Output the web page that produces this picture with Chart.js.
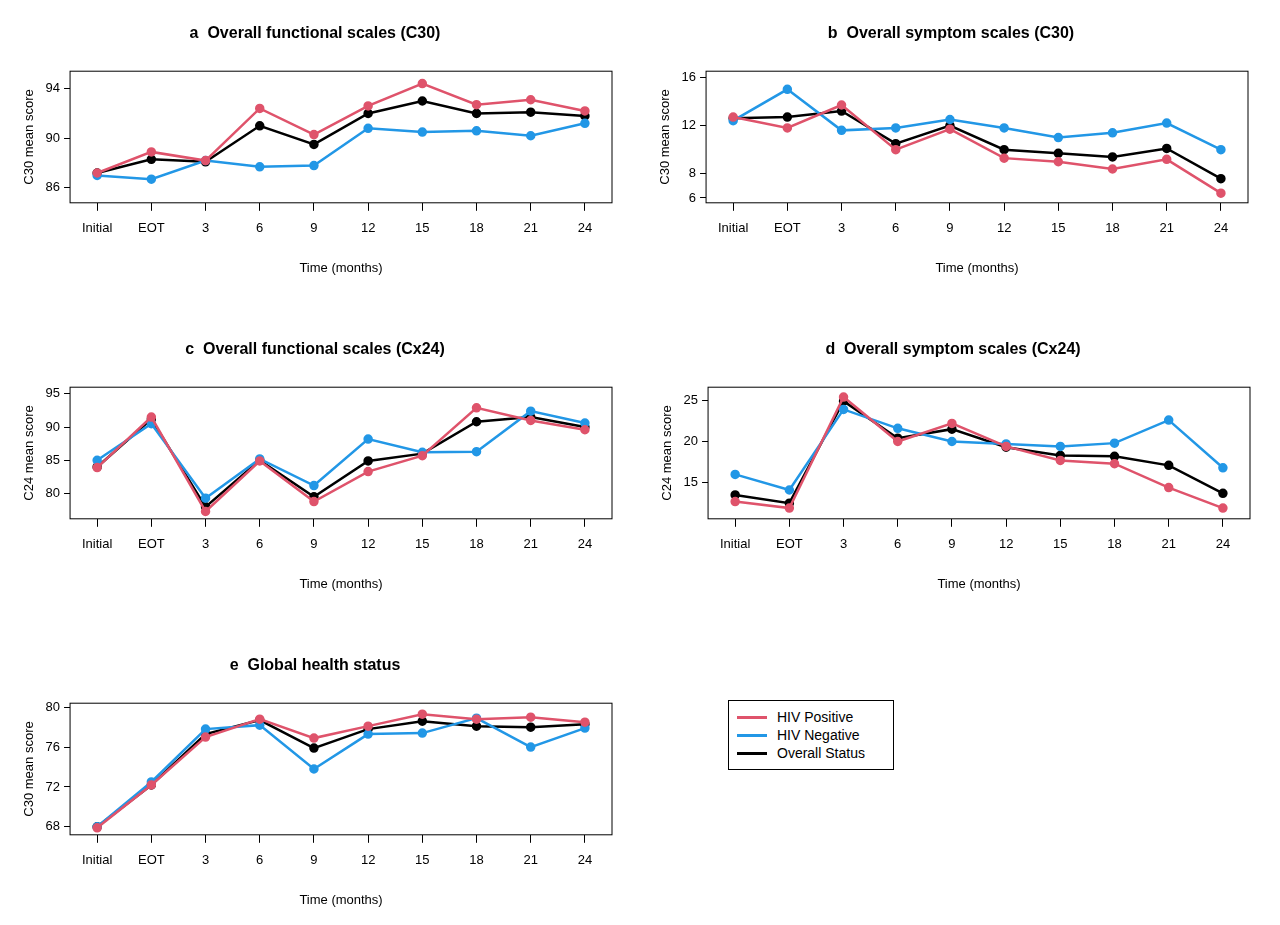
<!DOCTYPE html>
<html>
<head>
<meta charset="utf-8">
<script src="https://cdn.jsdelivr.net/npm/chart.js@4"></script>
<style>
  body { margin: 0; background: #fff; font-family: "Liberation Sans", Arial, sans-serif; }
  .panel { position: absolute; width: 640px; height: 268px; }
  #legend { position: absolute; left: 728px; top: 700px; width: 148px; border: 1px solid #000;
    padding: 7px 8px; font-size: 14px; line-height: 18px; }
  #legend div { display: flex; align-items: center; }
  #legend span { display: inline-block; width: 30px; height: 3px; margin-right: 10px; }
</style>
</head>
<body>
<div class="panel" style="left:0;top:12px"><canvas id="a"></canvas></div>
<div class="panel" style="left:636px;top:12px"><canvas id="b"></canvas></div>
<div class="panel" style="left:0;top:328px"><canvas id="c"></canvas></div>
<div class="panel" style="left:638px;top:328px"><canvas id="d"></canvas></div>
<div class="panel" style="left:0;top:644px"><canvas id="e"></canvas></div>
<div id="legend">
  <div><span style="background:#DF536B"></span>HIV Positive</div>
  <div><span style="background:#2297E6"></span>HIV Negative</div>
  <div><span style="background:#000"></span>Overall Status</div>
</div>
<script>
// --------------
// DATA
// --------------
const timepoints = ["Initial", "EOT", "3", "6", "9", "12", "15", "18", "21", "24"];

const aPos = [87.2, 88.9, 88.2, 92.4, 90.3, 92.6, 94.4, 92.7, 93.1, 92.2];
const aNeg = [87.0, 86.7, 88.2, 87.7, 87.8, 90.8, 90.5, 90.6, 90.2, 91.2];
const aAll = [87.2, 88.3, 88.1, 91.0, 89.5, 92.0, 93.0, 92.0, 92.1, 91.8];

const bPos = [12.7, 11.8, 13.7, 10.0, 11.7, 9.3, 9.0, 8.4, 9.2, 6.4];
const bNeg = [12.4, 15.0, 11.6, 11.8, 12.5, 11.8, 11.0, 11.4, 12.2, 10.0];
const bAll = [12.6, 12.7, 13.2, 10.5, 12.0, 10.0, 9.7, 9.4, 10.1, 7.6];

const cPos = [83.9, 91.5, 77.3, 84.9, 78.8, 83.3, 85.7, 92.9, 91.0, 89.6];
const cNeg = [85.0, 90.5, 79.3, 85.2, 81.2, 88.2, 86.2, 86.3, 92.4, 90.6];
const cAll = [84.0, 91.2, 78.0, 85.0, 79.5, 84.9, 86.0, 90.8, 91.5, 90.0];

const dPos = [12.7, 11.9, 25.4, 20.0, 22.2, 19.4, 17.7, 17.3, 14.4, 11.9];
const dNeg = [16.0, 14.1, 23.9, 21.6, 20.0, 19.7, 19.4, 19.8, 22.6, 16.8];
const dAll = [13.5, 12.5, 24.9, 20.4, 21.5, 19.3, 18.3, 18.2, 17.1, 13.7];

const ePos = [67.9, 72.2, 77.0, 78.8, 76.9, 78.1, 79.3, 78.8, 79.0, 78.5];
const eNeg = [68.0, 72.5, 77.8, 78.2, 73.8, 77.3, 77.4, 78.9, 76.0, 77.9];
const eAll = [68.0, 72.2, 77.3, 78.7, 75.9, 77.8, 78.6, 78.1, 78.0, 78.3];

const aTicks = [86, 90, 94];
const bTicks = [6, 8, 12, 16];
const cTicks = [80, 85, 90, 95];
const dTicks = [15, 20, 25];
const eTicks = [68, 72, 76, 80];

const RED = '#DF536B', BLUE = '#2297E6', BLACK = '#000';

// draws the R-style box round the plot area
const boxPlugin = {
  id: 'box',
  afterDraw(chart) {
    const { ctx, chartArea: c } = chart;
    ctx.save();
    ctx.strokeStyle = '#000';
    ctx.lineWidth = 1;
    ctx.strokeRect(c.left, c.top, c.right - c.left, c.bottom - c.top);
    ctx.restore();
  }
};

function series(data, color) {
  return { data, borderColor: color, backgroundColor: color, borderWidth: 2.5,
           pointRadius: 3.5, pointHoverRadius: 3.5, tension: 0 };
}

function makePanel(id, title, yTitle, pos, neg, all, ticks, min, max) {
  new Chart(document.getElementById(id), {
    type: 'line',
    data: { labels: timepoints, datasets: [series(pos, RED), series(neg, BLUE), series(all, BLACK)] },
    plugins: [boxPlugin],
    options: {
      animation: false,
      responsive: true,
      maintainAspectRatio: false,
      layout: { padding: { right: 28, left: 18 } },
      plugins: {
        legend: { display: false },
        tooltip: { enabled: false },
        title: { display: true, text: title, color: '#000', padding: { top: 12, bottom: 28 },
                 font: { size: 16, weight: 'bold', family: 'Liberation Sans' } }
      },
      scales: {
        x: {
          offset: true,
          grid: { drawOnChartArea: false, drawTicks: true, tickLength: 8, color: '#000' },
          border: { display: false },
          ticks: { color: '#000', font: { size: 13 }, padding: 10, maxRotation: 0, autoSkip: false },
          title: { display: true, text: 'Time (months)', color: '#000', font: { size: 13 }, padding: { top: 14 } }
        },
        y: {
          min, max,
          afterBuildTicks: ax => { ax.ticks = ticks.map(v => ({ value: v })); },
          grid: { drawOnChartArea: false, drawTicks: true, tickLength: 6, color: '#000' },
          border: { display: false },
          ticks: { color: '#000', font: { size: 13 }, padding: 4 },
          title: { display: true, text: yTitle, color: '#000', font: { size: 13 }, padding: { bottom: 4 } }
        }
      }
    }
  });
}

makePanel('a', 'a  Overall functional scales (C30)', 'C30 mean score', aPos, aNeg, aAll, aTicks, 84.8, 95.4);
makePanel('b', 'b  Overall symptom scales (C30)', 'C30 mean score', bPos, bNeg, bAll, bTicks, 5.6, 16.5);
makePanel('c', 'c  Overall functional scales (Cx24)', 'C24 mean score', cPos, cNeg, cAll, cTicks, 76.2, 96.0);
makePanel('d', 'd  Overall symptom scales (Cx24)', 'C24 mean score', dPos, dNeg, dAll, dTicks, 10.6, 26.6);
makePanel('e', 'e  Global health status', 'C30 mean score', ePos, eNeg, eAll, eTicks, 67.2, 80.4);
</script>
</body>
</html>
